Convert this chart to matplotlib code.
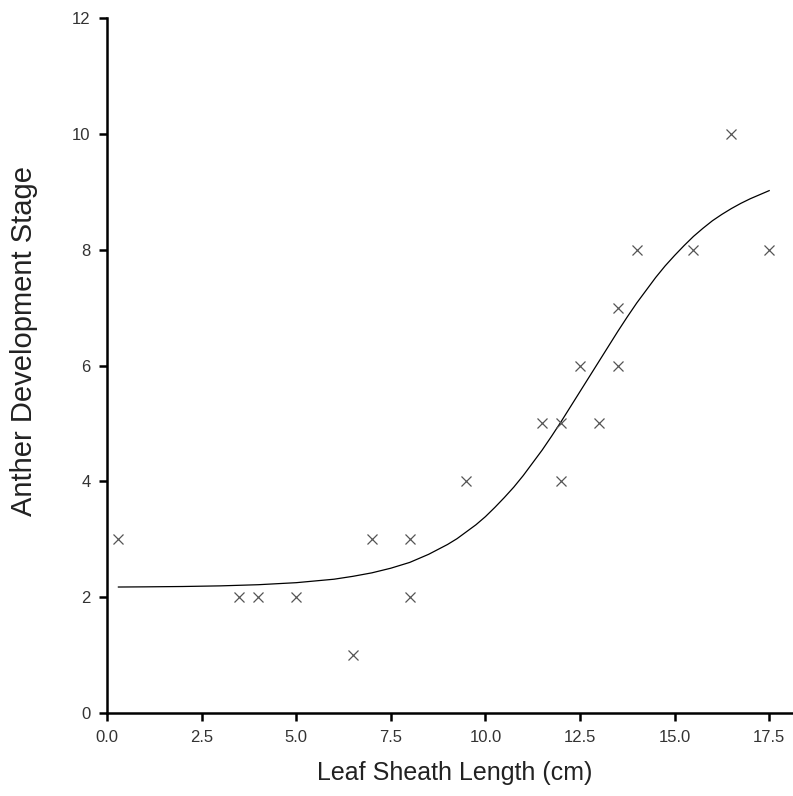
import matplotlib
matplotlib.use("Agg")
import matplotlib.pyplot as plt

# measured points
sheath_len = [0.3, 3.5, 4.0, 5.0, 6.5, 7.0, 8.0, 8.0, 9.5, 11.5, 12.0, 12.0,
              12.5, 13.0, 13.5, 13.5, 14.0, 15.5, 16.5, 17.5]
anther_stage = [3, 2, 2, 2, 1, 3, 3, 2, 4, 5, 5, 4, 6, 5, 7, 6, 8, 8, 10, 8]

# fitted curve
fit_x = [0.3, 1, 2, 3, 4, 5, 6, 6.5, 7, 7.5, 8, 8.5, 9, 9.25, 9.5, 9.75,
         10, 10.25, 10.5, 10.75, 11, 11.25, 11.5, 11.75, 12, 12.25, 12.5,
         12.75, 13, 13.25, 13.5, 13.75, 14, 14.25, 14.5, 14.75, 15, 15.25,
         15.5, 15.75, 16, 16.25, 16.5, 16.75, 17, 17.25, 17.5]
fit_y = [2.175, 2.178, 2.184, 2.195, 2.215, 2.25, 2.31, 2.36, 2.42, 2.50,
         2.60, 2.74, 2.91, 3.01, 3.13, 3.25, 3.39, 3.55, 3.72, 3.90, 4.10,
         4.32, 4.54, 4.78, 5.03, 5.29, 5.55, 5.81, 6.07, 6.33, 6.59, 6.84,
         7.08, 7.30, 7.52, 7.72, 7.90, 8.07, 8.23, 8.37, 8.50, 8.61, 8.71,
         8.80, 8.88, 8.95, 9.02]

plt.rcParams['font.family'] = ['Liberation Sans', 'DejaVu Sans']

fig = plt.figure(figsize=(7.93, 7.96), dpi=100)
ax = fig.add_axes([0.135, 0.1043, 0.865, 0.873])

ax.plot(fit_x, fit_y, color='black', linewidth=0.9)
ax.plot(sheath_len, anther_stage, linestyle='none', marker='x',
        markersize=6.5, markeredgewidth=0.9, color='#555555')

ax.set_xlim(0, 18.13)
ax.set_ylim(0, 12)
ax.set_xticks([0, 2.5, 5, 7.5, 10, 12.5, 15, 17.5])
ax.set_xticklabels(['0.0', '2.5', '5.0', '7.5', '10.0', '12.5', '15.0', '17.5'])
ax.set_yticks([0, 2, 4, 6, 8, 10, 12])

for s in ['top', 'right']:
    ax.spines[s].set_visible(False)
for s in ['left', 'bottom']:
    ax.spines[s].set_linewidth(1.8)
ax.tick_params(direction='out', length=6, width=1.8, labelsize=12,
               labelcolor='#333333', pad=6)

ax.set_xlabel('Leaf Sheath Length (cm)', fontsize=18, color='#222222',
              ha='left', va='center')
ax.set_ylabel('Anther Development Stage', fontsize=21, color='#222222',
              va='center')
ax.xaxis.set_label_coords(0.306, -0.087)
ax.yaxis.set_label_coords(-0.121, 0.535)

fig.savefig('out.png', dpi=100)
